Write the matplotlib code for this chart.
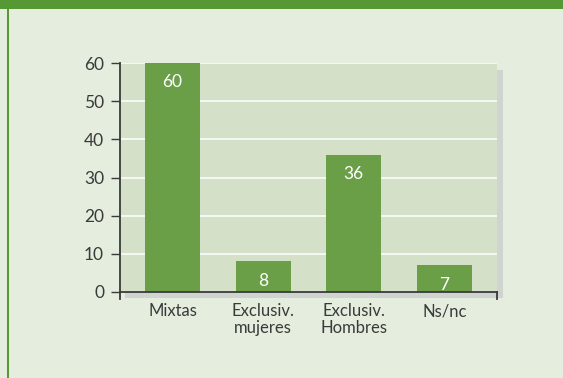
import matplotlib.pyplot as plt
from matplotlib.patches import Rectangle
from matplotlib.lines import Line2D

plt.rcParams['font.family'] = ['Lato', 'DejaVu Sans']

categorias = ['Mixtas', 'Exclusiv.\nmujeres', 'Exclusiv.\nHombres', 'Ns/nc']
valores = [60, 8, 36, 7]
yticks = [0, 10, 20, 30, 40, 50, 60]

W, H = 563, 378
fondo = '#e4edde'
verde_barra = '#6a9f48'
verde_borde = '#559834'
texto = '#3a3a3a'

fig = plt.figure(figsize=(W / 100, H / 100), dpi=100, facecolor=fondo)


def fx(px):
    return px / W


def fy(py):
    return 1 - py / H


# marco: franja superior y linea izquierda
fig.add_artist(Rectangle((0, fy(9)), 1, 9 / H, transform=fig.transFigure,
                         color=verde_borde, lw=0, zorder=-2))
fig.add_artist(Rectangle((fx(7), 0), 2 / W, 1, transform=fig.transFigure,
                         color=verde_borde, lw=0, zorder=-2))

# sombra gris detras del area de trazado
fig.add_artist(Rectangle((fx(125), fy(298)), (503 - 125) / W, (298 - 70) / H,
                         transform=fig.transFigure, color='#d0d4d0', lw=0, zorder=-1))

ax = fig.add_axes([fx(120), fy(292), (497 - 120) / W, (292 - 63) / H])
ax.set_facecolor('#d4e1c8')

x = list(range(len(categorias)))
ax.bar(x, valores, width=0.61, color=verde_barra, zorder=3)
for xi, v in zip(x, valores):
    ax.annotate(str(v), (xi, v), xytext=(0, -14), textcoords='offset points',
                ha='center', va='center', color='white', fontsize=12.5, zorder=4)

ax.set_xlim(-0.58, 3.58)
ax.set_ylim(0, 60)
ax.set_yticks(yticks)
ax.yaxis.grid(True, color='white', lw=1.1, zorder=1)
ax.set_axisbelow(True)

ax.set_xticks(x)
ax.set_xticklabels(categorias, fontsize=12, color=texto, linespacing=1.1)
ax.tick_params(axis='x', length=0, pad=8)
ax.tick_params(axis='y', length=6.5, width=1, color=texto, labelsize=12.5,
               labelcolor=texto, pad=5)

for s in ax.spines.values():
    s.set_visible(False)

# ejes dibujados a mano para que sobresalgan por debajo
ejes = dict(color=texto, lw=1.3, transform=fig.transFigure, zorder=5)
fig.add_artist(Line2D([fx(120), fx(120)], [fy(63), fy(299)], **ejes))
fig.add_artist(Line2D([fx(120), fx(497)], [fy(292), fy(292)], **ejes))
fig.add_artist(Line2D([fx(497), fx(497)], [fy(292), fy(299)], **ejes))

fig.savefig('out.png', dpi=100, facecolor=fondo)
